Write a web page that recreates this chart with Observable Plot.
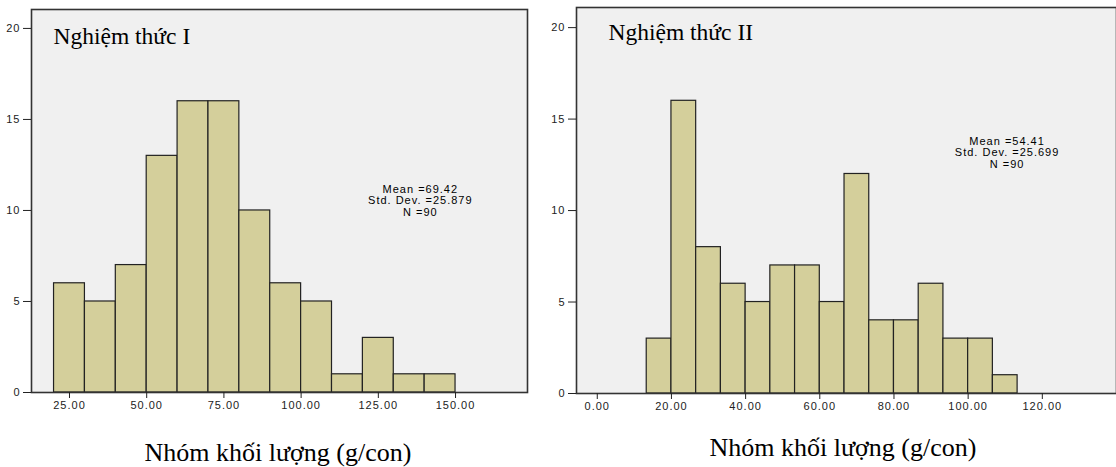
<!DOCTYPE html>
<html>
<head>
<meta charset="utf-8">
<script src="https://cdn.jsdelivr.net/npm/d3@7"></script>
<script src="https://cdn.jsdelivr.net/npm/@observablehq/plot@0.6"></script>
<style>
  html, body { margin: 0; padding: 0; background: #fff; }
  #wrap { position: relative; width: 1116px; height: 467px; overflow: hidden; }
  .panel { position: absolute; top: 0; }
  .caption { position: absolute; font-family: "Liberation Serif", "Times New Roman", serif; font-size: 26px; line-height: 1; color: #000; white-space: nowrap; transform: translate(-50%, -50%); }
  svg text { letter-spacing: 1px; }
</style>
</head>
<body>
<div id="wrap"></div>
<script>
// ---- data ----
const leftTitle = "Nghiệm thức I";
const rightTitle = "Nghiệm thức II";
const xCaption = "Nhóm khối lượng (g/con)";

const leftBinStart = [20, 30, 40, 50, 60, 70, 80, 90, 100, 110, 120, 130, 140];
const leftBinWidth = 10;
const leftCounts = [6, 5, 7, 13, 16, 16, 10, 6, 5, 1, 3, 1, 1];
const leftXTicks = [25, 50, 75, 100, 125, 150];
const leftStats = ["Mean =69.42", "Std. Dev. =25.879", "N =90"];

const rightBinStart = [13.333, 20, 26.667, 33.333, 40, 46.667, 53.333, 60, 66.667, 73.333, 80, 86.667, 93.333, 100, 106.667];
const rightBinWidth = 6.667;
const rightCounts = [3, 16, 8, 6, 5, 7, 7, 5, 12, 4, 4, 6, 3, 3, 1];
const rightXTicks = [0, 20, 40, 60, 80, 100, 120];
const rightStats = ["Mean =54.41", "Std. Dev. =25.699", "N =90"];

const yTicks = [0, 5, 10, 15, 20];

// ---- styling ----
const barFill = "#d4cf9b";
const bgFill = "#f0f0f0";
const ink = "#222";

function hist({starts, width, counts, xTicks, stats, title, plotWidth, mL, mR, mT, mB, xDomain, yDomain, statX, statY, titleDx, titleDy}) {
  const rows = starts.map((s, i) => ({x1: s, x2: s + width, y: counts[i]}));
  const svg = Plot.plot({
    width: plotWidth,
    height: 420,
    marginLeft: mL,
    marginRight: mR,
    marginTop: mT,
    marginBottom: mB,
    style: {fontFamily: "'Liberation Sans', Arial, sans-serif", fontSize: "11px", color: ink, background: "transparent"},
    x: {domain: xDomain},
    y: {domain: yDomain},
    marks: [
      Plot.frame({fill: bgFill, stroke: null}),
      Plot.rectY(rows, {x1: "x1", x2: "x2", y: "y", fill: barFill, stroke: ink, strokeWidth: 1.2, inset: 0}),
      Plot.frame({stroke: "#333", strokeWidth: 1.6}),
      Plot.axisX({ticks: xTicks, tickFormat: d => d.toFixed(2), tickSize: 6, tickPadding: 3, label: null, stroke: ink}),
      Plot.axisY({ticks: yTicks, tickFormat: d => String(d), tickSize: 8, tickPadding: 3, label: null, stroke: ink}),
      Plot.text([stats.join("\n")], {x: statX, y: statY, text: d => d, fontSize: 11, lineHeight: 1.05, textAnchor: "middle", fill: "#000"}),
      Plot.text([title], {frameAnchor: "top-left", dx: titleDx, dy: titleDy, text: d => d, fontSize: 23.5, fontFamily: "'Liberation Serif', 'Times New Roman', serif", fill: "#000", textAnchor: "start", className: "ttl"})
    ]
  });
  svg.querySelectorAll(".ttl text, text.ttl").forEach(t => t.style.letterSpacing = "0");
  svg.querySelectorAll("g").forEach(g => {
    if (g.getAttribute("class") && g.getAttribute("class").includes("ttl")) g.querySelectorAll("text").forEach(t => t.style.letterSpacing = "0");
  });
  return svg;
}

const wrap = document.getElementById("wrap");

const left = hist({
  starts: leftBinStart, width: leftBinWidth, counts: leftCounts, xTicks: leftXTicks, stats: leftStats, title: leftTitle,
  plotWidth: 540, mL: 31, mR: 13, mT: 9, mB: 28,
  xDomain: [12.7, 173.3], yDomain: [0, 21.04],
  statX: 138.6, statY: 10.55, titleDx: 22, titleDy: 18
});
const lp = document.createElement("div");
lp.className = "panel"; lp.style.left = "0px";
lp.appendChild(left);
wrap.appendChild(lp);

const right = hist({
  starts: rightBinStart, width: rightBinWidth, counts: rightCounts, xTicks: rightXTicks, stats: rightStats, title: rightTitle,
  plotWidth: 576, mL: 36, mR: 0, mT: 7, mB: 27,
  xDomain: [-5.6, 140.0], yDomain: [0, 21.1],
  statX: 110.5, statY: 13.18, titleDx: 32, titleDy: 16
});
const rp = document.createElement("div");
rp.className = "panel"; rp.style.left = "540px";
rp.appendChild(right);
wrap.appendChild(rp);

const c1 = document.createElement("div");
c1.className = "caption"; c1.textContent = xCaption;
c1.style.left = "278px"; c1.style.top = "453px";
wrap.appendChild(c1);

const c2 = document.createElement("div");
c2.className = "caption"; c2.textContent = xCaption;
c2.style.left = "843px"; c2.style.top = "448px";
wrap.appendChild(c2);
</script>
</body>
</html>
